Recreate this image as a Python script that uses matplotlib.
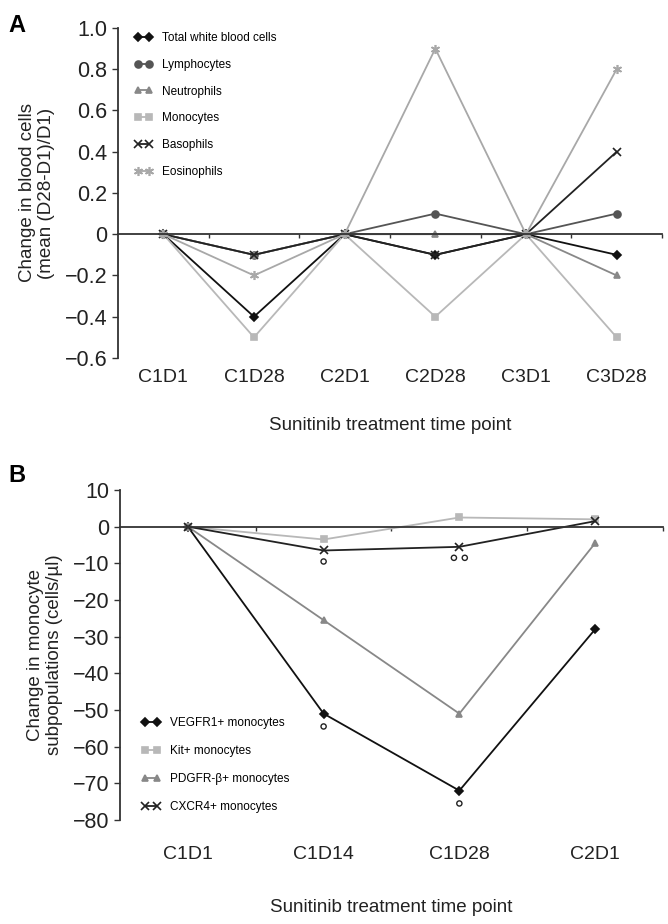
import matplotlib
matplotlib.use("Agg")
import matplotlib.pyplot as plt

plt.rcParams['font.family'] = ['Liberation Sans', 'DejaVu Sans']

# Panel A data
a_times = ["C1D1", "C1D28", "C2D1", "C2D28", "C3D1", "C3D28"]
total_wbc = [0, -0.4, 0, -0.1, 0, -0.1]
lymphocytes = [0, -0.1, 0, 0.1, 0, 0.1]
neutrophils = [0, -0.1, 0, 0.0, 0, -0.2]
monocytes = [0, -0.5, 0, -0.4, 0, -0.5]
basophils = [0, -0.1, 0, -0.1, 0, 0.4]
eosinophils = [0, -0.2, 0, 0.9, 0, 0.8]

# Panel B data
b_times = ["C1D1", "C1D14", "C1D28", "C2D1"]
vegfr1 = [0, -51, -72, -28]
kit = [0, -3.5, 2.5, 2.0]
pdgfrb = [0, -25.5, -51, -4.5]
cxcr4 = [0, -6.5, -5.5, 1.5]

# significance circles (time index, value)
sig_x = [1, 2, 2, 1, 2]
sig_y = [-9.5, -8.5, -8.5, -54.5, -75.5]
sig_dx = [0, -0.04, 0.04, 0, 0]

ASTERISK = (6, 2, 0)

series_a = [
    ("Total white blood cells", total_wbc, "#111111", "D", 4.5),
    ("Lymphocytes", lymphocytes, "#555555", "o", 5),
    ("Neutrophils", neutrophils, "#888888", "^", 5),
    ("Monocytes", monocytes, "#b8b8b8", "s", 4.5),
    ("Basophils", basophils, "#222222", "x", 5.5),
    ("Eosinophils", eosinophils, "#a8a8a8", ASTERISK, 6.5),
]

series_b = [
    ("VEGFR1+ monocytes", vegfr1, "#111111", "D", 4.5),
    ("Kit+ monocytes", kit, "#b8b8b8", "s", 4.5),
    ("PDGFR-\u03b2+ monocytes", pdgfrb, "#888888", "^", 5),
    ("CXCR4+ monocytes", cxcr4, "#222222", "x", 5.5),
]

fig = plt.figure(figsize=(6.68, 9.24), dpi=100)
axA = fig.add_axes([0.1766, 0.6126, 0.8144, 0.3571])
axB = fig.add_axes([0.1796, 0.1126, 0.8129, 0.3571])


def style_axis(ax, n, labels, pad, xlabelpad):
    ax.spines['top'].set_visible(False)
    ax.spines['right'].set_visible(False)
    ax.spines['bottom'].set_position(('data', 0))
    ax.spines['bottom'].set_linewidth(1.3)
    ax.spines['left'].set_linewidth(1.3)
    ax.spines['bottom'].set_color('#333333')
    ax.spines['left'].set_color('#333333')
    ax.set_xlim(0, n)
    ax.set_xticks(range(1, n + 1))
    ax.set_xticklabels([])
    ax.tick_params(axis='x', direction='out', length=3, width=1, colors='#333333')
    ax.tick_params(axis='y', direction='out', length=4, width=1, labelsize=15.5,
                   colors='#333333', labelcolor='#222222')
    sec = ax.secondary_xaxis(0.0)
    sec.set_xticks([i + 0.5 for i in range(n)], labels)
    sec.spines['bottom'].set_visible(False)
    sec.tick_params(length=0, pad=pad, labelsize=14, labelcolor='#222222')
    sec.set_xlabel("Sunitinib treatment time point", fontsize=13.5,
                   labelpad=xlabelpad, color='#222222')


# Panel A
xa = [i + 0.5 for i in range(len(a_times))]
for name, vals, col, mk, ms in series_a:
    axA.plot(xa, vals, color=col, marker=mk, markersize=ms, lw=1.3,
             markeredgewidth=1.2, label=name)
style_axis(axA, len(a_times), a_times, 8, 22)
axA.set_ylim(-0.6, 1.0)
yt = [-0.6, -0.4, -0.2, 0, 0.2, 0.4, 0.6, 0.8, 1.0]
axA.set_yticks(yt)
axA.set_yticklabels(["\u22120.6", "\u22120.4", "\u22120.2", "0", "0.2", "0.4", "0.6",
                     "0.8", "1.0"])
axA.set_ylabel("Change in blood cells\n(mean (D28-D1)/D1)", fontsize=13.5,
               color='#222222', labelpad=7)
axA.legend(loc='upper left', bbox_to_anchor=(0.01, 1.02), frameon=False,
           fontsize=8.5, numpoints=2, handlelength=1.6, labelspacing=1.25,
           handletextpad=0.8)

# Panel B
xb = [i + 0.5 for i in range(len(b_times))]
for name, vals, col, mk, ms in series_b:
    axB.plot(xb, vals, color=col, marker=mk, markersize=ms, lw=1.3,
             markeredgewidth=1.2, label=name)
axB.scatter([xb[i] + d for i, d in zip(sig_x, sig_dx)], sig_y, s=14,
            facecolors='none', edgecolors='#222222', linewidths=1.0, zorder=5)
style_axis(axB, len(b_times), b_times, 19, 26)
axB.set_ylim(-80, 10)
bt = list(range(-80, 11, 10))
axB.set_yticks(bt)
axB.set_yticklabels([("\u2212%d" % -v) if v < 0 else str(v) for v in bt])
axB.set_ylabel("Change in monocyte\nsubpopulations (cells/\u00b5l)", fontsize=13.5,
               color='#222222', labelpad=7)
axB.legend(loc='lower left', bbox_to_anchor=(0.02, -0.01), frameon=False,
           fontsize=8.5, numpoints=2, handlelength=1.6, labelspacing=1.35,
           handletextpad=0.8)

fig.text(0.012, 0.985, "A", fontsize=17, fontweight='bold', va='top')
fig.text(0.012, 0.498, "B", fontsize=17, fontweight='bold', va='top')

fig.savefig("out.png", dpi=100)
